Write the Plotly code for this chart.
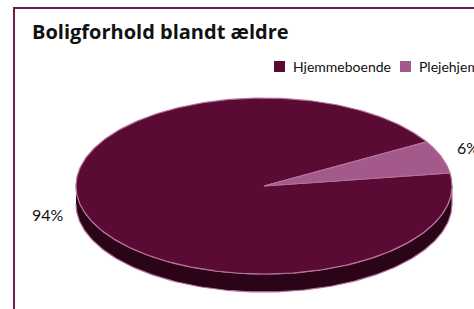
import numpy as np
import plotly.graph_objects as go

title = "Boligforhold blandt ældre"
categories = ["Hjemmeboende", "Plejehjem"]
values = [94, 6]
labels = ["94%", "6%"]

top_colors = ["#5a0b34", "#a3598a"]
side_colors = ["#2c0418", "#4f1a3a"]
edge_color = "#b5729c"

W, H = 474, 309
cx, cy = 264, 186
rx, ry = 188, 88
depth = 18
start_deg = 8.5  # where Plejehjem begins (math angle, ccw)

fig = go.Figure()

total = sum(values)
spans = {}
a = start_deg
for cat, v in [(categories[1], values[1]), (categories[0], values[0])]:
    span = 360.0 * v / total
    spans[cat] = (a, a + span)
    a += span

# side walls (visible lower half: 180..360)
for i, cat in enumerate(categories):
    a0, a1 = spans[cat]
    lo, hi = max(a0, 180), min(a1, 360)
    if hi <= lo:
        continue
    ts = np.linspace(lo, hi, 200)
    xs_top = cx + rx * np.cos(np.radians(ts))
    ys_top = cy - ry * np.sin(np.radians(ts))
    xs = np.concatenate([xs_top, xs_top[::-1]])
    ys = np.concatenate([ys_top, ys_top[::-1] + depth])
    fig.add_trace(go.Scatter(x=xs, y=ys, fill="toself", mode="lines",
                             fillcolor=side_colors[i],
                             line=dict(color=edge_color, width=1.2),
                             hoverinfo="skip", showlegend=False))

# top faces
for i, cat in enumerate(categories):
    a0, a1 = spans[cat]
    ts = np.linspace(a0, a1, 400)
    xs = np.concatenate([[cx], cx + rx * np.cos(np.radians(ts)), [cx]])
    ys = np.concatenate([[cy], cy - ry * np.sin(np.radians(ts)), [cy]])
    fig.add_trace(go.Scatter(x=xs, y=ys, fill="toself", mode="lines",
                             fillcolor=top_colors[i], name=cat,
                             line=dict(color=edge_color, width=1.2),
                             hoverinfo="skip", showlegend=False))

# custom legend (swatch + text)
text_font = dict(family="Lato, sans-serif", size=14, color="#111111")
legend_x = [274, 400]
for i, cat in enumerate(categories):
    x0 = legend_x[i]
    fig.add_shape(type="rect", x0=x0, x1=x0 + 11, y0=61, y1=72,
                  fillcolor=top_colors[i], line=dict(width=0))
    fig.add_annotation(x=x0 + 17, y=66.5, text=cat, showarrow=False, font=text_font,
                       xanchor="left", yanchor="middle")

label_font = dict(family="Lato, sans-serif", size=16, color="#111111")
fig.add_annotation(x=48, y=214, text=labels[0], showarrow=False, font=label_font,
                   xanchor="center", yanchor="middle")
fig.add_annotation(x=455, y=147, text=labels[1], showarrow=False, font=label_font,
                   xanchor="left", yanchor="middle")

fig.add_shape(type="rect", x0=14, y0=8, x1=490, y1=330, line=dict(color="#6e1c4b", width=2),
              layer="below")

fig.update_layout(
    width=W, height=H,
    margin=dict(l=0, r=0, t=0, b=0, autoexpand=False),
    paper_bgcolor="white", plot_bgcolor="white",
    xaxis=dict(range=[0, W], visible=False, fixedrange=True),
    yaxis=dict(range=[H, 0], visible=False, fixedrange=True),
    title=dict(text="<b>" + title + "</b>", x=32 / W, xanchor="left", y=1 - 32 / H, yanchor="middle",
               font=dict(family="Open Sans, DejaVu Sans, sans-serif", size=20, color="#111111")),
    showlegend=False,
)

fig.write_html("out.html", config={"displayModeBar": False},
               post_script="document.body.style.margin='0';")
